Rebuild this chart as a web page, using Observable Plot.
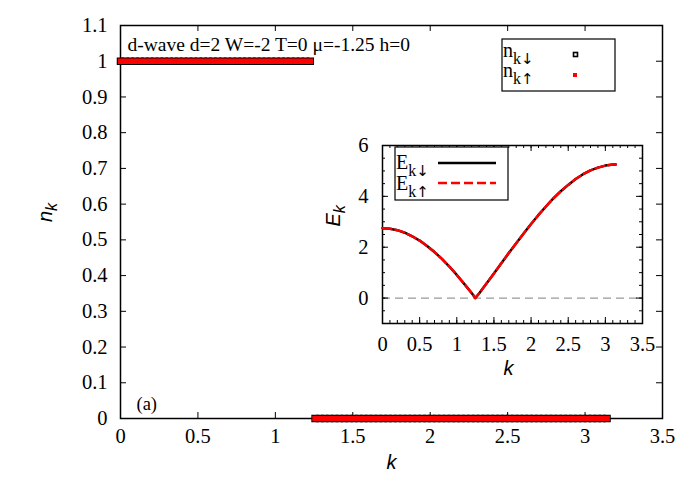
<!DOCTYPE html>
<html><head><meta charset="utf-8">
<script src="https://cdn.jsdelivr.net/npm/d3@7"></script>
<script src="https://cdn.jsdelivr.net/npm/@observablehq/plot@0.6"></script>
<style>
body{margin:0;background:#fff}
#chart{position:relative;width:685px;height:480px}
#inset{position:absolute;left:300px;top:130px}
</style>
</head><body><div id="chart"><div id="main"></div><div id="inset"></div></div>
<script>
// ---------- data ----------
// momentum grid of the n_k points (0 .. pi, 101 points)
const kGrid = d3.range(0, 101).map(i => i * Math.PI / 100);
const nDown = [1,1,1,1,1,1,1,1,1,1, 1,1,1,1,1,1,1,1,1,1, 1,1,1,1,1,1,1,1,1,1, 1,1,1,1,1,1,1,1,1,1,
               0,0,0,0,0,0,0,0,0,0, 0,0,0,0,0,0,0,0,0,0, 0,0,0,0,0,0,0,0,0,0, 0,0,0,0,0,0,0,0,0,0,
               0,0,0,0,0,0,0,0,0,0, 0,0,0,0,0,0,0,0,0,0, 0];
const nUp   = [1,1,1,1,1,1,1,1,1,1, 1,1,1,1,1,1,1,1,1,1, 1,1,1,1,1,1,1,1,1,1, 1,1,1,1,1,1,1,1,1,1,
               0,0,0,0,0,0,0,0,0,0, 0,0,0,0,0,0,0,0,0,0, 0,0,0,0,0,0,0,0,0,0, 0,0,0,0,0,0,0,0,0,0,
               0,0,0,0,0,0,0,0,0,0, 0,0,0,0,0,0,0,0,0,0, 0];
// inset: quasiparticle energy
const kE    = [0,0.1,0.2,0.3,0.4,0.5,0.6,0.7,0.8,0.9,1.0,1.1,1.2,1.25,1.3,1.4,1.5,1.6,1.7,1.8,1.9,2.0,2.1,2.2,2.3,2.4,2.5,2.6,2.7,2.8,2.9,3.0,3.1,3.14];
const EDown = [2.75,2.73,2.67,2.57,2.43,2.26,2.05,1.81,1.54,1.24,0.91,0.56,0.20,0.0,0.18,0.57,0.97,1.37,1.77,2.16,2.54,2.91,3.27,3.60,3.92,4.20,4.45,4.68,4.87,5.02,5.13,5.21,5.25,5.25];
const EUp   = [2.75,2.73,2.67,2.57,2.43,2.26,2.05,1.81,1.54,1.24,0.91,0.56,0.20,0.0,0.18,0.57,0.97,1.37,1.77,2.16,2.54,2.91,3.27,3.60,3.92,4.20,4.45,4.68,4.87,5.02,5.13,5.21,5.25,5.25];
// ticks / labels
const xTicks = [0,0.5,1,1.5,2,2.5,3,3.5];
const yTicks = [0,0.1,0.2,0.3,0.4,0.5,0.6,0.7,0.8,0.9,1,1.1];
const insetXTicks = [0,0.5,1,1.5,2,2.5,3,3.5];
const insetYTicks = [0,2,4,6];
const insetXMinor = d3.range(0, 36).map(i => i / 10);
const insetYMinor = d3.range(-2, 13).map(i => i / 2);
const titleText = "d-wave d=2 W=-2 T=0 μ=-1.25 h=0";
const panelText = "(a)";
const legendMain = [["n","k","↓"],["n","k","↑"]];
const legendInset = [["E","k","↓"],["E","k","↑"]];

const ptsDown = kGrid.map((k,i) => ({k, n: nDown[i]}));
const ptsUp = kGrid.map((k,i) => ({k, n: nUp[i]}));
const eDown = kE.map((k,i) => ({k, E: EDown[i]}));
const eUp = kE.map((k,i) => ({k, E: EUp[i]}));

const serif = "'Liberation Serif','Times New Roman',serif";
const sans = "'Liberation Sans',Arial,sans-serif";
const fmt = d3.format("~g");
const FS = 20.5;

// ---------- main plot ----------
const W = 685, H = 480, mL = 120, mR = 23, mT = 25, mB = 62;
const fw = W - mL - mR, fh = H - mT - mB;
const TK = 6;
const main = Plot.plot({
  width: W, height: H, marginLeft: mL, marginRight: mR, marginTop: mT, marginBottom: mB,
  style: {background: "transparent", fontFamily: serif, fontSize: FS + "px", overflow: "visible"},
  x: {domain: [0, 3.5]},
  y: {domain: [0, 1.1]},
  marks: [
    Plot.ruleX(xTicks, {x: d => d, insetTop: fh - TK, stroke: "black", strokeWidth: 1}),
    Plot.ruleX(xTicks, {x: d => d, insetBottom: fh - TK, stroke: "black", strokeWidth: 1}),
    Plot.ruleY(yTicks, {y: d => d, insetRight: fw - TK, stroke: "black", strokeWidth: 1}),
    Plot.ruleY(yTicks, {y: d => d, insetLeft: fw - TK, stroke: "black", strokeWidth: 1}),
    Plot.axisX(xTicks, {tickSize: 0, tickPadding: 10, fontSize: FS, label: null, tickFormat: fmt}),
    Plot.axisY(yTicks, {tickSize: 0, tickPadding: 13, fontSize: FS, label: null, tickFormat: fmt}),
    Plot.frame({stroke: "black", strokeWidth: 1.5}),
    Plot.dot(ptsDown, {x: "k", y: "n", symbol: "square", r: 3.4, stroke: "black", strokeWidth: 1.5, fill: "none"}),
    Plot.dot(ptsUp, {x: "k", y: "n", symbol: "square", r: 3.1, fill: "red", stroke: "none"}),
    Plot.text([titleText], {frameAnchor: "top-left", dx: 7, dy: 25, textAnchor: "start", lineAnchor: "bottom", fontSize: 19.5}),
    Plot.text([panelText], {frameAnchor: "bottom-left", dx: 16, dy: -9, textAnchor: "start", lineAnchor: "bottom", fontSize: 18.5}),
    Plot.text(["k"], {frameAnchor: "bottom", dy: 50, lineAnchor: "bottom", fontFamily: sans, fontStyle: "italic", fontSize: 20}),
    Plot.text(["n|k"], {frameAnchor: "left", dx: -75, rotate: -90, fontFamily: sans, fontStyle: "italic", fontSize: 20})
  ]
});
document.getElementById("main").appendChild(main);

// ---------- inset ----------
const iW = 360, iH = 260, imL = 82, imR = 18, imT = 15, imB = 67;
const ifw = iW - imL - imR, ifh = iH - imT - imB;
const inset = Plot.plot({
  width: iW, height: iH, marginLeft: imL, marginRight: imR, marginTop: imT, marginBottom: imB,
  style: {background: "transparent", fontFamily: serif, fontSize: FS + "px", overflow: "visible"},
  x: {domain: [0, 3.5]},
  y: {domain: [-1, 6]},
  marks: [
    Plot.ruleY([0], {stroke: "#999", strokeWidth: 1.2, strokeDasharray: "8,5"}),
    Plot.ruleX(insetXMinor, {x: d => d, insetTop: ifh - 3, stroke: "black"}),
    Plot.ruleX(insetXMinor, {x: d => d, insetBottom: ifh - 3, stroke: "black"}),
    Plot.ruleX(insetXTicks, {x: d => d, insetTop: ifh - TK, stroke: "black"}),
    Plot.ruleX(insetXTicks, {x: d => d, insetBottom: ifh - TK, stroke: "black"}),
    Plot.ruleY(insetYMinor, {y: d => d, insetRight: ifw - 3, stroke: "black"}),
    Plot.ruleY(insetYMinor, {y: d => d, insetLeft: ifw - 3, stroke: "black"}),
    Plot.ruleY(insetYTicks, {y: d => d, insetRight: ifw - TK, stroke: "black"}),
    Plot.ruleY(insetYTicks, {y: d => d, insetLeft: ifw - TK, stroke: "black"}),
    Plot.axisX(insetXTicks, {tickSize: 0, tickPadding: 13, fontSize: FS, label: null, tickFormat: fmt}),
    Plot.axisY(insetYTicks, {tickSize: 0, tickPadding: 14, fontSize: FS, label: null, tickFormat: fmt}),
    Plot.frame({stroke: "black", strokeWidth: 1.5}),
    Plot.line(eDown, {x: "k", y: "E", stroke: "black", strokeWidth: 2.5}),
    Plot.line(eUp, {x: "k", y: "E", stroke: "red", strokeWidth: 2.5, strokeDasharray: "9,4"}),
    Plot.text(["k"], {frameAnchor: "bottom", dx: -4, dy: 51, lineAnchor: "bottom", fontFamily: sans, fontStyle: "italic", fontSize: 20}),
    Plot.text(["E|k"], {frameAnchor: "left", dx: -49, dy: -8, rotate: -90, fontFamily: sans, fontStyle: "italic", fontSize: 20})
  ]
});
document.getElementById("inset").appendChild(inset);

// ---------- subscripts in Plot text ----------
function subscriptify(svg) {
  d3.select(svg).selectAll("text").each(function() {
    const t = this.textContent;
    if (!t.includes("|") || this.querySelector("tspan")) return;
    const [base, sub] = t.split("|");
    const s = d3.select(this);
    s.text(null);
    s.append("tspan").text(base);
    s.append("tspan").attr("dy", "0.3em").attr("font-size", "0.8em").text(sub);
  });
}
subscriptify(main);
subscriptify(inset);

function richLabel(g, x, y, base, sub, arrow, size) {
  const t = g.append("text").attr("x", x).attr("y", y).attr("text-anchor", "start")
    .attr("font-family", serif).attr("font-size", size).attr("fill", "black");
  t.append("tspan").text(base);
  t.append("tspan").attr("dy", size * 0.36).attr("font-size", size * 0.8).text(sub);
  t.append("tspan").attr("font-family", "'DejaVu Sans',sans-serif").attr("font-size", size * 0.75).text(arrow);
}

// main legend
{
  const g = d3.select(main).append("g");
  g.append("rect").attr("x", 502).attr("y", 39).attr("width", 113).attr("height", 52)
    .attr("fill", "none").attr("stroke", "black").attr("stroke-width", 1.2);
  richLabel(g, 503, 57, ...legendMain[0], 20);
  richLabel(g, 503, 77, ...legendMain[1], 20);
  g.append("rect").attr("x", 573.5).attr("y", 52.5).attr("width", 4).attr("height", 4)
    .attr("fill", "white").attr("stroke", "black").attr("stroke-width", 1.6);
  g.append("rect").attr("x", 573).attr("y", 73).attr("width", 4).attr("height", 4).attr("fill", "red");
}
// inset legend
{
  const g = d3.select(inset).append("g");
  g.append("rect").attr("x", 95).attr("y", 17).attr("width", 113).attr("height", 53)
    .attr("fill", "white").attr("stroke", "black").attr("stroke-width", 1.2);
  richLabel(g, 96, 39, ...legendInset[0], 20);
  richLabel(g, 96, 60, ...legendInset[1], 20);
  g.append("line").attr("x1", 138).attr("x2", 196).attr("y1", 33).attr("y2", 33)
    .attr("stroke", "black").attr("stroke-width", 2.5);
  g.append("line").attr("x1", 138).attr("x2", 196).attr("y1", 53).attr("y2", 53)
    .attr("stroke", "red").attr("stroke-width", 2.5).attr("stroke-dasharray", "9,4");
}
</script>
</body></html>
